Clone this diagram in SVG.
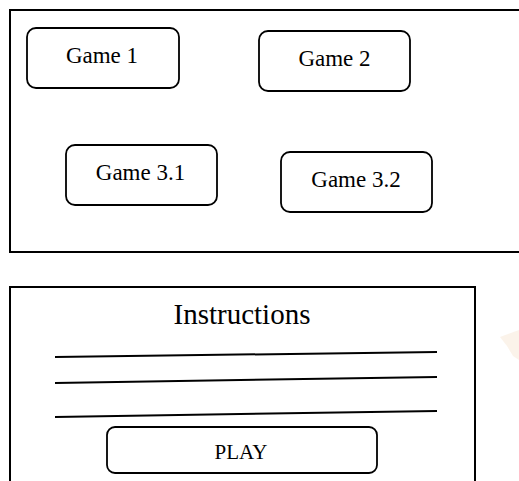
<svg xmlns="http://www.w3.org/2000/svg" width="519" height="481" viewBox="0 0 519 481">
<style>
.frame{fill:#fff;stroke:#000;stroke-width:2}
.btn{fill:#fff;stroke:#000;stroke-width:1.8}
.t{font-family:"Liberation Serif","Times New Roman",serif;fill:#000;text-anchor:middle}
.line{stroke:#000;stroke-width:2;fill:none}
</style>
<rect width="519" height="481" fill="#fff"/>
<g id="screen1">
<rect class="frame" x="10" y="10" width="520" height="242"/>
</g>
<g id="game1">
<rect class="btn" x="27" y="28" width="152" height="60" rx="9"/>
<text class="t" x="102" y="63" font-size="23">Game 1</text>
</g>
<g id="game2">
<rect class="btn" x="259" y="31" width="151" height="60" rx="9"/>
<text class="t" x="334.5" y="66" font-size="23">Game 2</text>
</g>
<g id="game31">
<rect class="btn" x="66" y="145" width="151" height="60" rx="9"/>
<text class="t" x="140.5" y="180" font-size="23">Game 3.1</text>
</g>
<g id="game32">
<rect class="btn" x="281" y="152" width="151" height="60" rx="9"/>
<text class="t" x="356" y="187" font-size="23">Game 3.2</text>
</g>
<g id="screen2">
<rect class="frame" x="10" y="287" width="465" height="210"/>
<text class="t" x="242" y="324" font-size="29">Instructions</text>
</g>
<g id="connectors">
<line class="line" x1="55" y1="357" x2="437" y2="352"/>
<line class="line" x1="55" y1="383" x2="437" y2="377"/>
<line class="line" x1="55" y1="417" x2="437" y2="411"/>
</g>
<g id="play">
<rect class="btn" x="107" y="427" width="270" height="46" rx="8"/>
<text class="t" x="241" y="459" font-size="21">PLAY</text>
</g>
<polygon points="500,337 519,330 519,360 513,356 507,346" fill="#f8ebdc" opacity="0.6"/>
</svg>
